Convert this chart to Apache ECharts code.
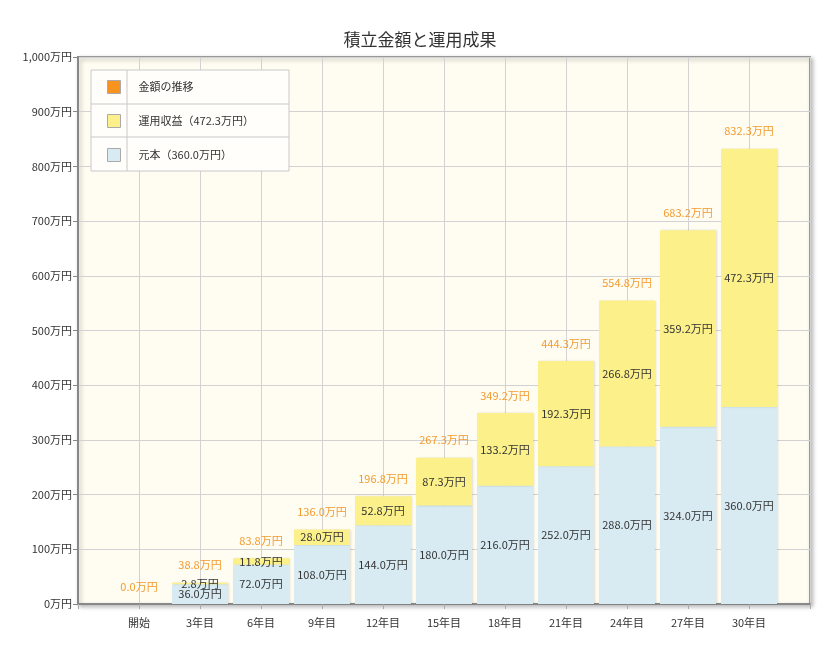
<!DOCTYPE html>
<html>
<head>
<meta charset="utf-8">
<script src="https://cdn.jsdelivr.net/npm/echarts@6/dist/echarts.min.js"></script>
<style>html,body{margin:0;padding:0;background:#fff}#c{width:840px;height:649px}</style>
</head>
<body>
<div id="c"></div>
<script>
var categories = ['開始','3年目','6年目','9年目','12年目','15年目','18年目','21年目','24年目','27年目','30年目'];
var principal = [0, 36.0, 72.0, 108.0, 144.0, 180.0, 216.0, 252.0, 288.0, 324.0, 360.0];
var gain = [0, 2.8, 11.8, 28.0, 52.8, 87.3, 133.2, 192.3, 266.8, 359.2, 472.3];
var totals = [0.0, 38.8, 83.8, 136.0, 196.8, 267.3, 349.2, 444.3, 554.8, 683.2, 832.3];
var yTicks = [0,100,200,300,400,500,600,700,800,900,1000];

var FONT = '"Noto Sans CJK JP", sans-serif';
var cats = [''].concat(categories, ['']);
function pad(a){ return ['-'].concat(a, ['-']); }
var nameTotal = '金額の推移';
var nameGain = '運用収益（' + gain[gain.length-1].toFixed(1) + '万円）';
var namePrin = '元本（' + principal[principal.length-1].toFixed(1) + '万円）';
function fmt(p){ var v = Number(p.value); return v ? v.toFixed(1) + '万円' : ''; }

var chart = echarts.init(document.getElementById('c'), null, {renderer:'canvas'});
chart.setOption({
  animation: false,
  backgroundColor: '#ffffff',
  textStyle: {fontFamily: FONT},
  title: {
    text: '積立金額と運用成果', left: 'center', top: 26,
    textStyle: {fontSize: 17, fontWeight: 'normal', color: '#333', fontFamily: FONT}
  },
  grid: {
    left: 78, right: 30, top: 57, bottom: 45, show: true,
    backgroundColor: '#FFFDF2', borderColor: '#999', borderWidth: 2,
    shadowColor: 'rgba(0,0,0,0.25)', shadowBlur: 4, shadowOffsetX: 2, shadowOffsetY: 2
  },
  graphic: [
    {type:'rect', z: 5, shape:{x:91, y:70, width:198, height:101}, style:{fill:'#FFFEFA', stroke:'#c8c8c8', lineWidth:1}},
    {type:'line', z: 6, shape:{x1:91, y1:104, x2:289, y2:104}, style:{stroke:'#c8c8c8', lineWidth:1}},
    {type:'line', z: 6, shape:{x1:91, y1:137, x2:289, y2:137}, style:{stroke:'#c8c8c8', lineWidth:1}},
    {type:'line', z: 6, shape:{x1:127, y1:70, x2:127, y2:171}, style:{stroke:'#c8c8c8', lineWidth:1}}
  ],
  legend: {
    orient: 'vertical', left: 102, top: 75, z: 10,
    itemWidth: 13, itemHeight: 13, itemGap: 20, icon: 'rect',
    data: [nameTotal, nameGain, namePrin],
    itemStyle: {borderColor: '#aaa', borderWidth: 1},
    textStyle: {fontSize: 11, color: '#333', fontFamily: FONT, padding: [0,0,0,13]}
  },
  xAxis: {
    type: 'category', data: cats, boundaryGap: false,
    axisLine: {lineStyle: {color: '#888', width: 2}},
    axisTick: {show: true, length: 5, lineStyle: {color: '#aaa'}},
    axisLabel: {fontSize: 11, color: '#333', margin: 13, fontFamily: FONT},
    splitLine: {show: true, lineStyle: {color: '#d2d2d2'}}
  },
  yAxis: {
    type: 'value', min: yTicks[0], max: yTicks[yTicks.length-1], interval: yTicks[1]-yTicks[0],
    axisLine: {show: true, lineStyle: {color: '#888', width: 2}},
    axisTick: {show: true, length: 5, lineStyle: {color: '#888'}},
    axisLabel: {fontSize: 11, color: '#333', fontFamily: FONT, margin: 6,
      formatter: function(v){ return v.toLocaleString('en-US') + '万円'; }},
    splitLine: {lineStyle: {color: '#d2d2d2'}}
  },
  series: [
    {
      name: namePrin, type: 'bar', stack: 's', barWidth: 56, data: pad(principal),
      itemStyle: {color: '#D8EBF2', shadowColor: 'rgba(0,0,0,0.12)', shadowBlur: 2, shadowOffsetX: 1, shadowOffsetY: 0},
      label: {show: true, position: 'inside', fontSize: 11, color: '#333', fontFamily: FONT, formatter: fmt}
    },
    {
      name: nameGain, type: 'bar', stack: 's', barWidth: 56, data: pad(gain),
      itemStyle: {color: '#FBF08A', shadowColor: 'rgba(0,0,0,0.12)', shadowBlur: 2, shadowOffsetX: 1, shadowOffsetY: 0},
      label: {show: true, position: 'inside', fontSize: 11, color: '#333', fontFamily: FONT, formatter: fmt}
    },
    {
      name: nameTotal, type: 'line', data: pad(totals), symbol: 'circle', symbolSize: 0, showSymbol: true, z: 4,
      color: '#F7931E', itemStyle: {color: '#F7931E'},
      lineStyle: {width: 0, opacity: 0},
      label: {show: true, position: 'top', distance: 12, fontSize: 11, color: '#F39A2E', fontFamily: FONT,
        formatter: function(p){ return Number(p.value).toFixed(1) + '万円'; }}
    }
  ]
});
</script>
</body>
</html>
